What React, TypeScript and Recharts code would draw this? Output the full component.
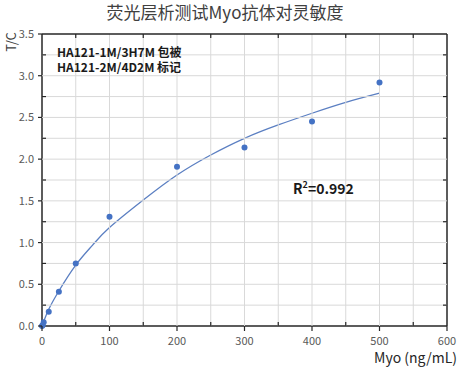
import React from "react";
import { ComposedChart, Line, Scatter, XAxis, YAxis } from "recharts";

// measured points
const pointX = [0, 1, 2.5, 10, 25, 50, 100, 200, 300, 400, 500];
const pointY = [0.0, 0.01, 0.045, 0.17, 0.41, 0.75, 1.31, 1.91, 2.14, 2.45, 2.92];

// fitted curve
const fitX = [0, 10, 25, 50, 75, 100, 150, 200, 250, 300, 350, 400, 450, 500];
const fitY = [0, 0.2, 0.42, 0.73, 0.97, 1.18, 1.51, 1.81, 2.05, 2.25, 2.41, 2.55, 2.68, 2.79];

const xMajor = [0, 100, 200, 300, 400, 500, 600];
const yMajor = [0, 0.5, 1, 1.5, 2, 2.5, 3, 3.5];
const xAll = [0, 50, 100, 150, 200, 250, 300, 350, 400, 450, 500, 550, 600];
const yAll = [0, 0.25, 0.5, 0.75, 1, 1.25, 1.5, 1.75, 2, 2.25, 2.5, 2.75, 3, 3.25, 3.5];

const title = "荧光层析测试Myo抗体对灵敏度";
const legendLines = ["HA121-1M/3H7M 包被", "HA121-2M/4D2M 标记"];

const points = pointX.map((x, i) => ({ x, y: pointY[i] }));
const fit = fitX.map((x, i) => ({ x, y: fitY[i] }));
// grid anchors: one per tick value, sitting on the axes
const gridV = xAll.map((x) => ({ x, y: 0 }));
const gridH = yAll.map((y) => ({ x: 0, y }));

const W = 471;
const H = 369;
const M = { top: 34, right: 24, bottom: 13, left: 0 };
const X_AXIS_H = 30;
const Y_AXIS_W = 42;
const PLOT_W = W - M.left - M.right - Y_AXIS_W;
const PLOT_H = H - M.top - M.bottom - X_AXIS_H;

const font = "'Noto Sans CJK SC', 'Noto Sans', sans-serif";
const frame = "#262626";
const grid = "#d9d9d9";
const label = "#595959";

const VLine = (p: any) => {
	const edge = p.payload?.x === xAll[xAll.length - 1];
	if (p.payload?.x === 0) return <g />;
	return (
		<line
			x1={p.cx}
			y1={p.cy}
			x2={p.cx}
			y2={p.cy - PLOT_H}
			stroke={edge ? frame : grid}
			strokeWidth={edge ? 1.5 : 1}
		/>
	);
};

const HLine = (p: any) => {
	const edge = p.payload?.y === yAll[yAll.length - 1];
	if (p.payload?.y === 0) return <g />;
	return (
		<line
			x1={p.cx}
			y1={p.cy}
			x2={p.cx + PLOT_W}
			y2={p.cy}
			stroke={edge ? frame : grid}
			strokeWidth={edge ? 1.5 : 1}
		/>
	);
};

// major ticks outside with labels, minor ticks inside, mirrored on top/right
const BottomTick = ({ x, y, payload }: any) => {
	const v = payload.value;
	if (xMajor.includes(v)) {
		return (
			<g>
				<line x1={x} y1={y} x2={x} y2={y + 5} stroke={frame} strokeWidth={1.2} />
				<text x={x} y={y + 19} textAnchor='middle' fontSize={11} fill={label}>
					{v}
				</text>
			</g>
		);
	}
	return (
		<g>
			<line x1={x} y1={y} x2={x} y2={y - 4} stroke={frame} strokeWidth={1.2} />
			<line x1={x} y1={y - PLOT_H} x2={x} y2={y - PLOT_H + 4} stroke={frame} strokeWidth={1.2} />
		</g>
	);
};

const LeftTick = ({ x, y, payload }: any) => {
	const v = payload.value;
	if (yMajor.includes(v)) {
		return (
			<g>
				<line x1={x - 4} y1={y} x2={x} y2={y} stroke={frame} strokeWidth={1.2} />
				<text x={x - 8} y={y + 4} textAnchor='end' fontSize={11} fill={label}>
					{v.toFixed(1)}
				</text>
			</g>
		);
	}
	return (
		<g>
			<line x1={x} y1={y} x2={x + 4} y2={y} stroke={frame} strokeWidth={1.2} />
			<line x1={x + PLOT_W - 4} y1={y} x2={x + PLOT_W} y2={y} stroke={frame} strokeWidth={1.2} />
		</g>
	);
};

export default function App() {
	return (
		<div style={{ position: "absolute", left: 0, top: 0, width: W, height: H, background: "#fff" }}>
			<ComposedChart width={W} height={H} margin={M} style={{ fontFamily: font }}>
				<XAxis
					type='number'
					dataKey='x'
					domain={[0, 600]}
					ticks={xAll}
					interval={0}
					height={X_AXIS_H}
					tickSize={0}
					tickMargin={0}
					tickLine={false}
					axisLine={{ stroke: frame, strokeWidth: 1.5 }}
					tick={<BottomTick />}
				/>
				<YAxis
					type='number'
					dataKey='y'
					domain={[0, 3.5]}
					ticks={yAll}
					interval={0}
					width={Y_AXIS_W}
					tickSize={0}
					tickMargin={0}
					tickLine={false}
					axisLine={{ stroke: frame, strokeWidth: 1.5 }}
					tick={<LeftTick />}
				/>
				<Scatter data={gridV} dataKey='y' shape={VLine} isAnimationActive={false} />
				<Scatter data={gridH} dataKey='y' shape={HLine} isAnimationActive={false} />
				<Line
					data={fit}
					dataKey='y'
					type='natural'
					stroke='#5b7fc2'
					strokeWidth={1.3}
					dot={false}
					activeDot={false}
					isAnimationActive={false}
				/>
				<Scatter
					data={points}
					dataKey='y'
					fill='#4472c4'
					shape={(p: any) => <circle cx={p.cx} cy={p.cy} r={3} fill='#4472c4' />}
					isAnimationActive={false}
				/>
			</ComposedChart>
			<svg
				width={W}
				height={H}
				style={{ position: "absolute", left: 0, top: 0, pointerEvents: "none", fontFamily: font }}
			>
				<text x={225} y={19} textAnchor='middle' fontSize={17} fill='#404040'>
					{title}
				</text>
				<text
					x={0}
					y={0}
					transform='translate(16, 42) rotate(-90)'
					textAnchor='middle'
					fontSize={13}
					fill='#404040'
				>
					T/C
				</text>
				<text x={457} y={363} textAnchor='end' fontSize={14} fill='#262626'>
					Myo (ng/mL)
				</text>
				{legendLines.map((s, i) => (
					<text key={s} x={57} y={57 + i * 15} fontSize={12} fontWeight='bold' fill='#1a1a1a'>
						{s}
					</text>
				))}
				<text x={293} y={194} fontSize={14} fontWeight='bold' fill='#1a1a1a'>
					R
					<tspan dy={-6} fontSize={9}>
						2
					</tspan>
					<tspan dy={6}>=0.992</tspan>
				</text>
			</svg>
		</div>
	);
}
